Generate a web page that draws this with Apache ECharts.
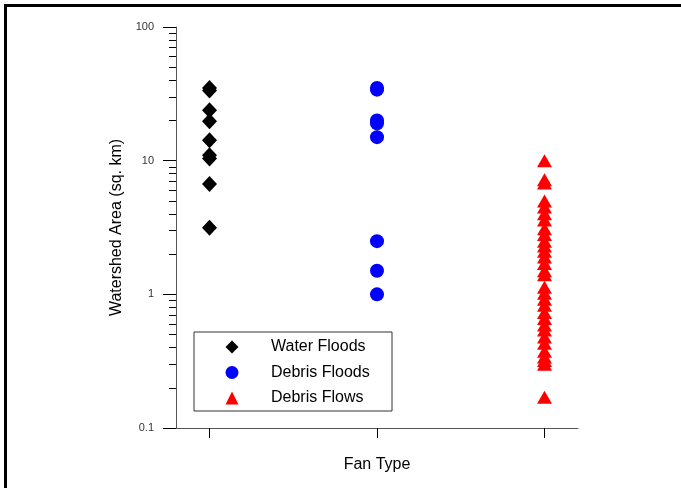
<!DOCTYPE html>
<html>
<head>
<meta charset="utf-8">
<script src="https://cdn.jsdelivr.net/npm/echarts@6/dist/echarts.min.js"></script>
<style>
  html, body { margin: 0; padding: 0; background: #fff; }
  #chart { width: 681px; height: 488px; }
</style>
</head>
<body>
<div id="chart"></div>
<script>
// Watershed area (sq. km) by alluvial fan type
const fanTypes = ['Water Floods', 'Debris Floods', 'Debris Flows'];
const fanPositions = [1, 2, 3];

const waterFloods = [35, 33.5, 23.8, 19.7, 14.2, 11.0, 10.4, 6.7, 3.15];
const debrisFloods = [35, 34, 20, 19, 15, 2.5, 1.5, 1.0];
const debrisFlows = [10.0, 7.2, 6.8, 5.0, 4.5, 4.0, 3.6, 3.1, 2.8, 2.5, 2.3, 2.1, 1.9, 1.7,
  1.5, 1.4, 1.13, 1.02, 0.92, 0.83, 0.73, 0.66, 0.59, 0.54, 0.48, 0.43, 0.375, 0.34,
  0.32, 0.30, 0.17];

const yMajorTicks = [0.1, 1, 10, 100];
const yMinorTicks = [0.2, 0.3, 0.4, 0.5, 0.6, 0.7, 0.8, 0.9,
  2, 3, 4, 5, 6, 7, 8, 9, 20, 30, 40, 50, 60, 70, 80, 90];

const FONT = '"Liberation Sans", Arial, sans-serif';

function toPoints(pos, values) {
  return values.map(v => [pos, v]);
}

const chart = echarts.init(document.getElementById('chart'), null, { renderer: 'canvas' });

chart.setOption({
  backgroundColor: '#ffffff',
  animation: false,
  textStyle: { fontFamily: FONT },
  graphic: [{
    type: 'rect',
    shape: { x: 5.5, y: 5.5, width: 720, height: 520 },
    style: { fill: null, stroke: '#000', lineWidth: 3 },
    silent: true,
    z: 100
  }],
  grid: { left: 176, top: 27, right: 103, bottom: 60 },
  xAxis: {
    type: 'value',
    min: 0.8,
    max: 3.2,
    name: 'Fan Type',
    nameLocation: 'middle',
    nameGap: 29,
    nameTextStyle: { fontSize: 16, color: '#000', fontFamily: FONT },
    axisLine: { lineStyle: { color: '#555', width: 1 } },
    axisTick: { show: true, inside: false, length: 10, customValues: fanPositions,
      lineStyle: { color: '#000', width: 1 } },
    axisLabel: { show: false },
    splitLine: { show: false }
  },
  yAxis: [{
    type: 'log',
    logBase: 10,
    min: 0.1,
    max: 100,
    name: 'Watershed Area (sq. km)',
    nameLocation: 'middle',
    nameGap: 51,
    nameRotate: 90,
    nameTextStyle: { fontSize: 16, color: '#000', fontFamily: FONT },
    axisLine: { show: true, lineStyle: { color: '#555', width: 1 } },
    axisTick: { show: true, inside: false, length: 13, customValues: yMajorTicks,
      lineStyle: { color: '#000', width: 1 } },
    axisLabel: { show: true, margin: 22, fontSize: 11, color: '#333', fontFamily: FONT,
      customValues: yMajorTicks, formatter: v => String(v) },
    splitLine: { show: false }
  }, {
    type: 'log',
    logBase: 10,
    min: 0.1,
    max: 100,
    position: 'left',
    axisLine: { show: false },
    axisTick: { show: true, inside: false, length: 7, customValues: yMinorTicks,
      lineStyle: { color: '#000', width: 1 } },
    axisLabel: { show: false },
    splitLine: { show: false }
  }],
  legend: {
    orient: 'vertical',
    left: 194,
    top: 332,
    padding: [6, 0, 4, 31.5],
    itemGap: 7.5,
    itemWidth: 13,
    itemHeight: 13,
    borderColor: '#333',
    borderWidth: 1,
    borderRadius: 0,
    backgroundColor: '#fff',
    textStyle: { fontSize: 16, color: '#000', fontFamily: FONT, lineHeight: 18,
      padding: [0, 0, 0, 27.5], width: 121 },
    data: fanTypes
  },
  series: [{
    name: fanTypes[0],
    type: 'scatter',
    symbol: 'diamond',
    symbolSize: [15, 16],
    itemStyle: { color: '#000000', opacity: 1 },
    data: toPoints(fanPositions[0], waterFloods)
  }, {
    name: fanTypes[1],
    type: 'scatter',
    symbol: 'circle',
    symbolSize: 14,
    itemStyle: { color: '#0000ff', opacity: 1 },
    data: toPoints(fanPositions[1], debrisFloods)
  }, {
    name: fanTypes[2],
    type: 'scatter',
    symbol: 'triangle',
    symbolSize: [15, 13],
    itemStyle: { color: '#ff0000', opacity: 1 },
    data: toPoints(fanPositions[2], debrisFlows)
  }]
});
</script>
</body>
</html>
